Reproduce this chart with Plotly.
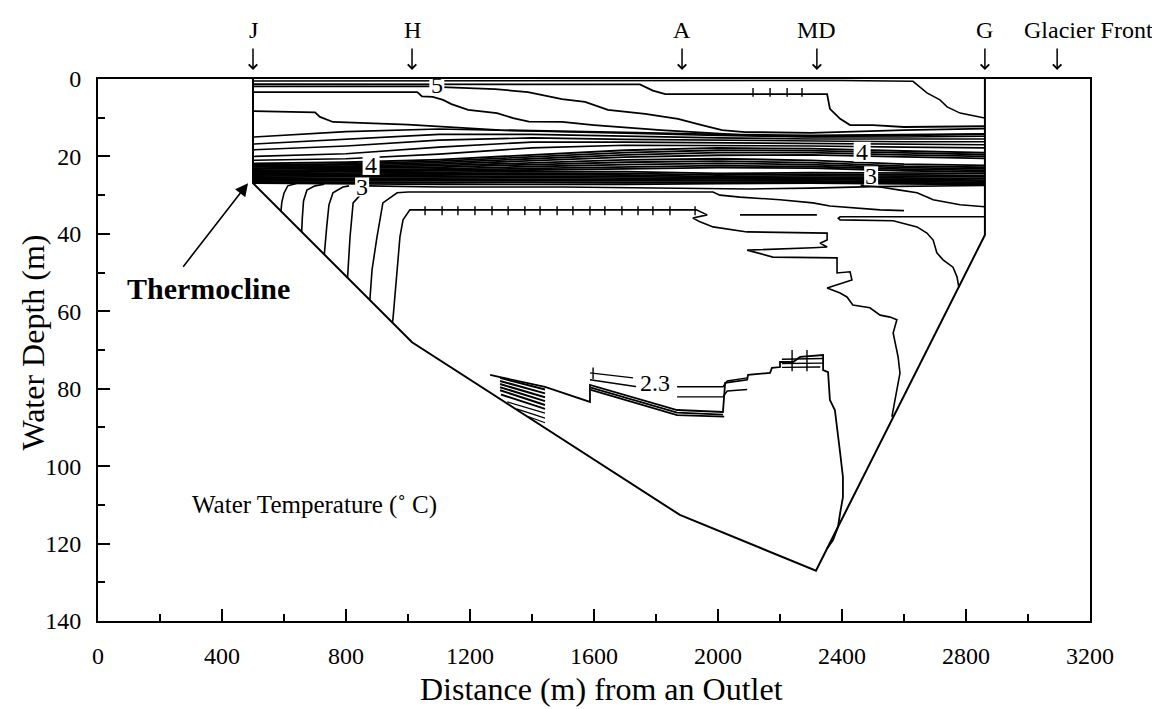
import plotly.graph_objects as go

FONT = "Liberation Serif"

# ---------------- axes ----------------
x_tick_vals = [0, 400, 800, 1200, 1600, 2000, 2400, 2800, 3200]
y_tick_vals = [0, 20, 40, 60, 80, 100, 120, 140]

# ---------------- lake outline (distance m, depth m) ----------------
bottom_x = [500, 500, 1013, 1877, 2316, 2861, 2861]
bottom_d = [0, 26.9, 68.0, 112.6, 127.0, 40.3, 0]

# ---------------- stations ----------------
station_names = ["J", "H", "A", "MD", "G", "Glacier Front"]
station_arrow_x = [500, 1013, 1884, 2319, 2861, 3094]
station_label_x = [500, 1013, 1884, 2319, 2861, 3194]

# ---------------- surface isotherms ----------------
surf1_x = [500, 1100, 2400, 2629, 2652, 2674, 2716, 2739, 2781, 2860]
surf1_d = [0.5, 0.5, 0.4, 0.6, 2.1, 3.6, 5.4, 7.2, 8.8, 10.1]
surf2_x = [500, 1748, 1790, 1830, 2352, 2361, 2394, 2426, 2500, 2600, 2860]
surf2_d = [1.3, 1.4, 3.0, 3.9, 3.9, 7.7, 10.3, 11.9, 11.9, 12.4, 12.2]
iso5_left_x = [500, 1080]
iso5_left_d = [1.9, 1.9]
iso5_x = [1110, 1281, 1387, 1497, 1571, 1645, 1765, 1871, 1948, 2013, 2087, 2300, 2600, 2860]
iso5_d = [2.1, 2.6, 3.4, 5.2, 5.9, 8.0, 9.0, 10.3, 11.9, 13.2, 13.7, 13.9, 13.2, 12.8]
sub5_x = [500, 1030, 1045, 1080, 1113, 1140, 1194, 1287, 1339, 1390, 1497, 1600, 1816, 2087, 2300, 2600, 2860]
sub5_d = [3.4, 3.4, 4.5, 4.6, 5.4, 6.5, 8.0, 8.8, 10.1, 11.0, 11.1, 11.9, 13.2, 14.5, 14.9, 14.6, 14.3]
u1_x = [500, 700, 716, 758, 1000, 1297, 1700, 2000, 2300, 2600, 2860]
u1_d = [8.3, 8.6, 9.8, 11.1, 11.8, 13.2, 13.8, 14.3, 14.6, 14.4, 14.2]

# ---------------- thermocline band (shared distance knots) ----------------
band_x = [500, 800, 1100, 1400, 1700, 2000, 2300, 2600, 2860]
band_upper_d = [
    [15.0, 13.6, 12.9, 13.4, 14.0, 14.6, 15.0, 15.0, 14.8],
    [16.8, 15.5, 14.3, 14.3, 14.8, 15.2, 15.5, 15.6, 15.5],
    [18.3, 17.3, 15.8, 15.2, 15.6, 15.8, 16.1, 16.2, 16.2],
    [20.0, 19.3, 17.6, 16.3, 16.3, 16.5, 16.7, 16.9, 17.0],
    [21.0, 20.6, 19.4, 17.8, 17.1, 17.2, 17.3, 17.6, 17.8],
]
band_lower_d = [
    [21.8, 21.5, 20.8, 19.6, 18.4, 17.8, 18.0, 18.6, 19.0],
    [22.1, 21.9, 21.2, 20.1, 19.0, 18.4, 18.5, 19.1, 19.5],
    [22.4, 22.2, 21.6, 20.6, 19.6, 19.0, 19.0, 19.6, 20.0],
    [22.7, 22.5, 22.0, 21.1, 20.2, 19.7, 19.6, 20.1, 20.5],
    [23.0, 22.8, 22.4, 21.6, 20.9, 20.6, 21.0, 22.0, 22.3],
    [23.3, 23.1, 22.8, 22.1, 21.5, 21.2, 21.6, 22.5, 22.8],
    [23.6, 23.4, 23.2, 22.6, 22.1, 21.8, 22.1, 22.9, 23.2],
    [23.9, 23.7, 23.5, 23.1, 22.7, 22.4, 22.6, 23.3, 23.6],
    [24.2, 24.0, 23.8, 23.5, 23.2, 22.9, 23.0, 23.7, 24.0],
    [24.5, 24.3, 24.1, 23.9, 23.9, 24.4, 24.2, 24.3, 24.4],
    [24.8, 24.6, 24.4, 24.3, 24.4, 24.8, 24.6, 24.7, 24.9],
    [25.1, 24.9, 24.8, 24.7, 24.8, 25.2, 25.0, 25.1, 25.3],
    [25.4, 25.2, 25.2, 25.1, 25.2, 25.5, 25.4, 25.5, 25.7],
    [25.7, 25.6, 25.6, 25.5, 25.6, 25.8, 25.7, 25.9, 26.1],
    [26.0, 25.9, 26.0, 25.9, 26.0, 26.1, 26.0, 26.2, 26.4],
    [26.3, 26.3, 26.4, 26.3, 26.4, 26.4, 26.3, 26.5, 26.7],
    [26.6, 26.7, 26.8, 26.7, 26.8, 26.7, 26.6, 26.8, 27.0],
    [26.9, 27.1, 27.2, 27.2, 27.2, 27.0, 26.9, 27.1, 27.3],
]

# ---------------- below the thermocline ----------------
c1_x = [870, 1100, 1500, 1900, 2100, 2300, 2500, 2860]
c1_d = [27.6, 27.9, 27.9, 28.2, 28.4, 28.2, 27.8, 27.5]
c2_x = [2460, 2523, 2587, 2642, 2674, 2694, 2781, 2860]
c2_d = [27.4, 27.9, 28.7, 29.4, 30.5, 31.2, 32.5, 33.0]
m2_x = [877, 884, 900, 919, 965, 1000, 1500, 1984, 2006, 2071, 2200, 2306, 2361, 2523, 2600]
m2_d = [57.1, 49.3, 40.8, 32.0, 29.4, 29.2, 29.2, 29.2, 30.0, 30.5, 31.2, 32.0, 32.8, 33.8, 34.0]
m1_x = [950, 952, 965, 974, 984, 1006, 1930, 1965, 1919, 1942, 1984, 2048, 2094, 2352, 2352,
        2329, 2352, 2306, 2094, 2177, 2384, 2384, 2426, 2432, 2352, 2394, 2416, 2435, 2490,
        2523, 2555, 2577, 2565, 2581, 2587, 2571, 2561]
m1_d = [62.9, 61.5, 49.3, 40.8, 36.4, 33.8, 33.8, 35.1, 35.9, 36.9, 38.2, 39.0, 39.5, 39.8, 41.6,
        42.4, 43.4, 43.6, 44.2, 46.0, 46.2, 50.1, 49.8, 51.9, 54.0, 55.3, 56.3, 58.4, 59.1,
        61.0, 61.5, 62.2, 65.6, 71.8, 76.0, 82.9, 87.3]
m1b_x = [2071, 2319]
m1b_d = [35.1, 35.1]
r1_x = [2860, 2394, 2388, 2394, 2565, 2597, 2642, 2674, 2694, 2706, 2726, 2758, 2771, 2777]
r1_d = [35.6, 35.6, 36.0, 36.4, 36.6, 37.2, 38.2, 39.8, 41.6, 44.9, 46.7, 48.6, 51.1, 53.8]
v1_x = [640, 612, 600, 593, 590]
v1_d = [27.0, 27.6, 29.5, 31.8, 34.2]
v2_x = [730, 700, 674, 663, 659, 657]
v2_d = [27.2, 27.6, 28.7, 31.5, 36.0, 39.5]
v3_x = [810, 790, 758, 745, 738, 732, 730]
v3_d = [27.6, 27.9, 29.4, 32.5, 38.0, 44.2, 45.4]
v4_x = [850, 823, 813, 806, 805]
v4_d = [29.6, 32.0, 40.8, 50.1, 51.4]

# ---------------- cold water (2.3 C) region ----------------
k_out_x = [1265, 1297, 1442, 1587, 1587, 1868, 2016, 2023, 2094, 2097, 2168, 2174, 2200, 2200,
           2242, 2265, 2339, 2339, 2355, 2361, 2377, 2387, 2394, 2403, 2403, 2394, 2387, 2371, 2352]
k_out_d = [76.4, 77.0, 79.5, 83.4, 79.0, 85.5, 86.0, 78.5, 77.7, 76.4, 75.9, 74.6, 74.4, 73.1,
           73.1, 71.8, 71.3, 75.2, 75.7, 82.9, 85.5, 91.5, 96.6, 102.8, 108.0, 112.1, 115.7, 119.1, 121.3]
k_band2_x = [1590, 1868, 2016]
k_band2_d = [79.7, 86.2, 86.7]
k_band3_x = [1590, 1868, 2020]
k_band3_d = [80.3, 86.8, 87.2]
block_x0 = [1297, 1297, 1297, 1297, 1297, 1300, 1320, 1350, 1385]
block_d0 = [77.2, 78.0, 78.8, 79.6, 80.4, 81.5, 83.4, 85.2, 87.1]
block_x1 = [1442, 1442, 1442, 1442, 1442, 1442, 1442, 1442, 1442]
block_d1 = [80.2, 81.2, 82.2, 83.2, 84.2, 85.2, 86.3, 87.6, 88.8]
t23a_left_x = [1587, 1726]
t23a_left_d = [75.9, 77.2]
t23a_right_x = [1868, 2016, 2030, 2094]
t23a_right_d = [79.5, 79.5, 78.0, 77.2]
t23b_left_x = [1587, 1739]
t23b_left_d = [77.7, 79.5]
t23b_right_x = [1868, 2016, 2030, 2094]
t23b_right_d = [82.1, 82.1, 80.6, 80.2]
tk_x0 = [2206, 2206, 2206]
tk_x1 = [2339, 2339, 2330]
tk_d0 = [72.4, 73.5, 74.5]
tk_d1 = [72.2, 73.4, 74.4]

# ---------------- small tick marks drawn across some isotherms ----------------
tick_x = [1055, 1110, 1161, 1216, 1271, 1323, 1377, 1426, 1481, 1532, 1587, 1635, 1690, 1742,
          1790, 1845, 1926, 2113, 2168, 2223, 2271, 1597, 2239, 2287]
tick_d0 = [32.9] * 17 + [2.3] * 4 + [74.5, 70.0, 70.0]
tick_d1 = [35.2] * 17 + [4.6] * 4 + [77.5, 75.5, 75.5]

# ---------------- labels ----------------
contour_label_text = ["5", "4", "3", "4", "3", "2.3"]
contour_label_x = [1093, 881, 852, 2465, 2494, 1797]
contour_label_d = [1.6, 22.2, 27.9, 18.8, 25.0, 78.5]
contour_label_w = [15, 17, 14, 17, 14, 38]
contour_label_h = [20, 20, 19, 20, 19, 20]

fig = go.Figure()


def add_line(x, d, width=1.6):
    fig.add_trace(go.Scatter(x=x, y=d, mode="lines",
                             line=dict(color="black", width=width),
                             hoverinfo="skip", showlegend=False))


add_line(bottom_x, bottom_d, 2.0)
add_line(surf1_x, surf1_d, 1.5)
add_line(surf2_x, surf2_d, 1.8)
add_line(iso5_left_x, iso5_left_d, 1.8)
add_line(iso5_x, iso5_d, 1.8)
add_line(sub5_x, sub5_d, 1.8)
add_line(u1_x, u1_d, 1.8)
for d in band_upper_d:
    add_line(band_x, d, 1.6)
for d in band_lower_d:
    add_line(band_x, d, 1.8)
for xs, ds in [(c1_x, c1_d), (c2_x, c2_d), (m2_x, m2_d), (m1_x, m1_d), (m1b_x, m1b_d),
               (r1_x, r1_d), (v1_x, v1_d), (v2_x, v2_d), (v3_x, v3_d), (v4_x, v4_d)]:
    add_line(xs, ds, 1.6)
add_line(k_out_x, k_out_d, 1.8)
add_line(k_band2_x, k_band2_d, 1.8)
add_line(k_band3_x, k_band3_d, 1.8)
for i in range(len(block_x0)):
    add_line([block_x0[i], block_x1[i]], [block_d0[i], block_d1[i]], 2.0 if i < 6 else 1.2)
for xs, ds in [(t23a_left_x, t23a_left_d), (t23a_right_x, t23a_right_d),
               (t23b_left_x, t23b_left_d), (t23b_right_x, t23b_right_d)]:
    add_line(xs, ds, 1.4)
for i in range(len(tk_x0)):
    add_line([tk_x0[i], tk_x1[i]], [tk_d0[i], tk_d1[i]], 1.4)

tx, ty = [], []
for i in range(len(tick_x)):
    tx += [tick_x[i], tick_x[i], None]
    ty += [tick_d0[i], tick_d1[i], None]
add_line(tx, ty, 1.4)

# white boxes behind contour labels, then the labels
for i in range(len(contour_label_text)):
    fig.add_shape(type="rect", xref="x", yref="y", xsizemode="pixel", ysizemode="pixel",
                  xanchor=contour_label_x[i], yanchor=contour_label_d[i],
                  x0=-contour_label_w[i] / 2, x1=contour_label_w[i] / 2,
                  y0=-contour_label_h[i] / 2, y1=contour_label_h[i] / 2,
                  fillcolor="white", line_width=0, layer="above")
    fig.add_annotation(x=contour_label_x[i], y=contour_label_d[i], xref="x", yref="y",
                       text=contour_label_text[i], showarrow=False,
                       font=dict(family=FONT, size=24, color="black"))

# stations along the top
for i in range(len(station_names)):
    fig.add_annotation(x=station_label_x[i], y=1.0904, xref="x", yref="paper",
                       text=station_names[i], showarrow=False, yanchor="middle",
                       font=dict(family=FONT, size=24, color="black"))
    fig.add_annotation(x=station_arrow_x[i], y=1.0166, xref="x", yref="paper",
                       text="", showarrow=True, ax=0, ay=-23, arrowhead=4,
                       arrowsize=1.1, arrowwidth=1.5, arrowcolor="black", standoff=0)

# thermocline arrow + texts
fig.add_annotation(x=484, y=26.9, xref="x", yref="y", text="", showarrow=True,
                   ax=-66, ay=85, arrowhead=2, arrowsize=1.6, arrowwidth=1.6,
                   arrowcolor="black", standoff=0)
fig.add_annotation(x=355, y=54.0, xref="x", yref="y", text="<b>Thermocline</b>",
                   showarrow=False, font=dict(family=FONT, size=30, color="black"))
fig.add_annotation(x=698, y=110.0, xref="x", yref="y", text="Water Temperature (˚ C)",
                   showarrow=False, font=dict(family=FONT, size=25, color="black"))

# axis titles
fig.add_annotation(x=0.508, y=-0.1255, xref="paper", yref="paper",
                   text="Distance (m) from an Outlet", showarrow=False, yanchor="middle",
                   font=dict(family=FONT, size=32, color="black"))
fig.add_annotation(x=-0.066, y=0.513, xref="paper", yref="paper",
                   text="Water Depth (m)", showarrow=False, textangle=-90,
                   xanchor="center", yanchor="middle",
                   font=dict(family=FONT, size=32, color="black"))

axis_common = dict(ticks="inside", ticklen=12, tickwidth=1.5, tickcolor="black",
                   showline=True, linecolor="black", linewidth=2, mirror=True,
                   showgrid=False, zeroline=False,
                   tickfont=dict(family=FONT, size=24, color="black"))
fig.update_xaxes(range=[0, 3200], tickvals=x_tick_vals, ticklabelstandoff=12,
                 minor=dict(tick0=0, dtick=200, ticks="inside", ticklen=7, tickwidth=1.5,
                            tickcolor="black", showgrid=False), **axis_common)
fig.update_yaxes(range=[140, 0], tickvals=y_tick_vals, ticklabelstandoff=10,
                 minor=dict(tick0=0, dtick=10, ticks="inside", ticklen=7, tickwidth=1.5,
                            tickcolor="black", showgrid=False), **axis_common)

# the page adds an 8 px body margin, so the figure is 8 px smaller and margins shifted
fig.update_layout(width=1152, height=701, margin=dict(l=90, r=70, t=71, b=88),
                  plot_bgcolor="white", paper_bgcolor="white", showlegend=False)

fig.write_html("out.html")
